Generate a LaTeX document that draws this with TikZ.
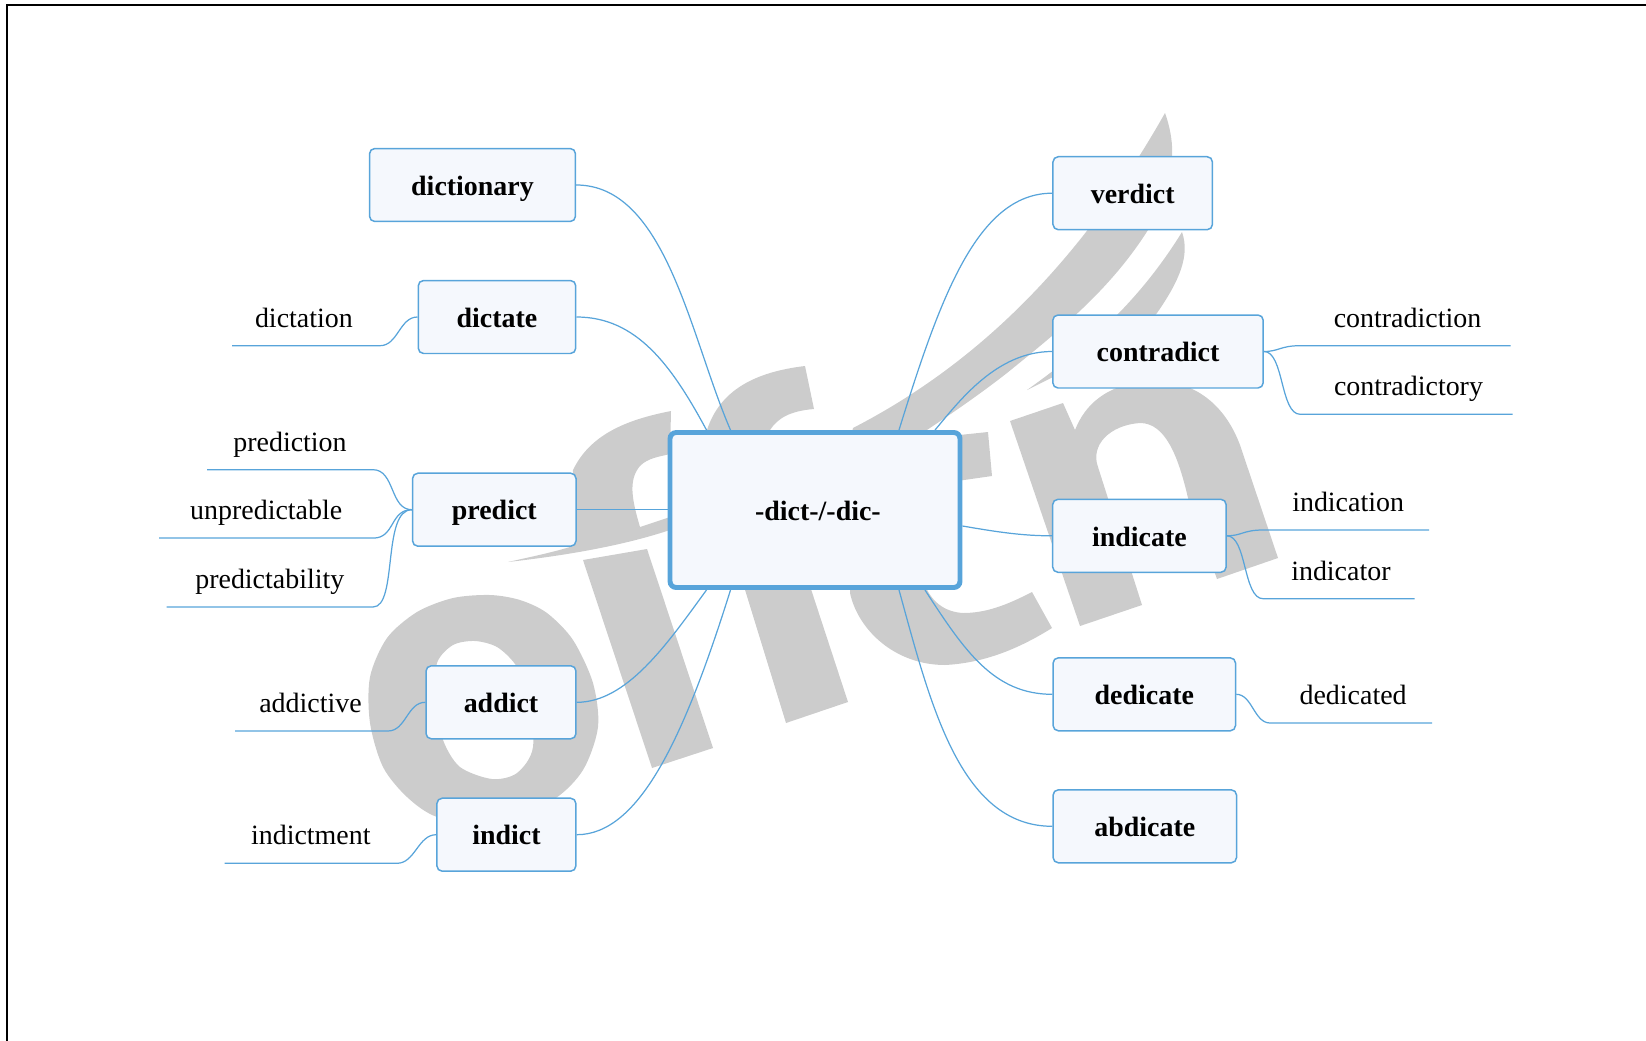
\documentclass[tikz,border=0pt]{standalone}
\usepackage{fontspec}
\setmainfont{Liberation Serif}
\definecolor{linkblue}{RGB}{88,164,218}
\definecolor{boxfill}{RGB}{245,248,253}
\definecolor{wmgray}{RGB}{204,204,204}
\tikzset{
    wmshape/.style={fill=wmgray, draw=none},
    link/.style={draw=linkblue, line width=0.7pt},
    topic/.style={draw=linkblue, fill=boxfill, line width=0.85pt, rounded corners=3pt, minimum height=1.46cm, inner sep=0pt, font=\fontsize{15.9}{19}\selectfont\bfseries, text height=13.8pt, text depth=2.1pt},
    root/.style={topic, line width=2.8pt, rounded corners=3.5pt, minimum width=5.80cm, minimum height=3.10cm},
    leaf/.style={inner sep=0pt, outer sep=0pt, minimum height=1.108cm, font=\fontsize{15.9}{19}\selectfont, text height=12.6pt, text depth=2.1pt},
    rleaf/.style={leaf, execute at begin node=\hspace{2.4pt}}
}
\begin{document}
\begin{tikzpicture}[x=0.02cm, y=-0.02cm]
    \useasboundingbox (0,0) rectangle (1646,1041);
    \draw [line width=1.15pt] (7,1041) -- (7,5) -- (1646,5);

    \fill [wmshape, even odd rule] plot [smooth cycle] coordinates {(490,595) (453,598) (417,612) (387,638) (370,677) (370,723) (383,767) (407,797) (437,817) (493,828) (553,800) (583,770) (598,727) (593,683) (573,640) (547,613) (520,600)}
        plot [smooth cycle] coordinates {(475,641) (453,645) (437,663) (435,700) (443,740) (460,767) (492,779) (517,773) (533,747) (528,690) (515,664) (497,647)};
    \fill [wmshape] (583,560) -- (647,549) -- (713,748) -- (652,768) -- cycle;
    \fill [wmshape] (742,580) -- (808,580) -- (848,702) -- (786,723) -- cycle;
    \fill [wmshape] (508,562) .. controls (570,555) and (625,545) .. (670,530) -- (670,517) -- (640,527) .. controls (632,500) and (628,480) .. (640,466) .. controls (648,458) and (658,457) .. (670,454) -- (671,411) .. controls (625,420) and (590,435) .. (573,470) -- (570,547) .. controls (550,553) and (530,557) .. (508,562) -- cycle;
    \fill [wmshape] (700,440) -- (707,430) .. controls (720,390) and (755,372) .. (805,366) -- (814,409) .. controls (790,411) and (778,418) .. (770,430) -- (770,440) -- cycle;
    \fill [wmshape] (850,440) -- (853,428) .. controls (950,378) and (1065,290) .. (1165,113) .. controls (1171,130) and (1173,145) .. (1172,160) -- (1148,230) .. controls (1110,290) and (1060,330) .. (1007,373) .. controls (975,398) and (945,418) .. (912,440) -- cycle;
    \fill [wmshape] (1027,390) .. controls (1090,345) and (1140,300) .. (1182,232) .. controls (1190,255) and (1180,280) .. (1157,313) -- (1100,380) -- (1053,377) -- cycle;
    \fill [wmshape] (1010,421) -- (1063,403) -- (1075,430) .. controls (1085,405) and (1105,385) .. (1150,380) .. controls (1195,380) and (1225,405) .. (1240,445) -- (1278,558) -- (1217,579) -- (1188,498) .. controls (1178,455) and (1165,423) .. (1140,423) .. controls (1110,425) and (1090,445) .. (1098,467) -- (1142,605) -- (1080,626) -- cycle;
    \fill [wmshape] (850,570) -- (850,593) .. controls (858,630) and (895,665) .. (945,665) .. controls (985,663) and (1020,648) .. (1052,628) -- (1032,592) .. controls (1005,606) and (985,613) .. (963,613) .. controls (945,612) and (930,602) .. (923,580) -- (923,570) -- cycle;
    \fill [wmshape] (950,436) -- (988,432) -- (992,476) -- (950,482) -- cycle;

    \node [root] (dict) at (815,510) {\hspace{3.3pt}-dict-/-dic-};
    \node [topic, minimum width=4.12cm] (dictionary) at (472.5,185) {dictionary};
    \node [topic, minimum width=3.15cm] (dictate) at (497,317) {dictate};
    \node [topic, minimum width=3.27cm] (predict) at (494.3,509.7) {predict};
    \node [topic, minimum width=3.00cm] (addict) at (501,702.3) {addict};
    \node [topic, minimum width=2.78cm] (indict) at (506.4,834.7) {indict};
    \node [topic, minimum width=3.19cm] (verdict) at (1132.7,193.2) {verdict};
    \node [topic, minimum width=4.21cm] (contradict) at (1158,351.5) {contradict};
    \node [topic, minimum width=3.47cm] (indicate) at (1139.4,535.8) {indicate};
    \node [topic, minimum width=3.65cm] (dedicate) at (1144.3,694.3) {dedicate};
    \node [topic, minimum width=3.67cm] (abdicate) at (1144.8,826.3) {abdicate};

    \node [leaf, minimum width=2.96cm] (dictation) at (306,318) {\hspace{-2.4pt}dictation};
    \node [leaf, minimum width=3.32cm] (prediction) at (290,442) {prediction};
    \node [leaf, minimum width=4.28cm] (unpredictable) at (266.2,510.4) {unpredictable};
    \node [leaf, minimum width=4.13cm] (predictability) at (269.8,579.3) {predictability};
    \node [leaf, minimum width=3.06cm] (addictive) at (311.5,703.3) {\hspace{-1.2pt}addictive};
    \node [leaf, minimum width=3.45cm] (indictment) at (310.8,835.6) {indictment};
    \node [rleaf, minimum width=4.21cm] (contradiction) at (1405.4,318) {contradiction};
    \node [rleaf, minimum width=4.25cm] (contradictory) at (1406.4,386.6) {contradictory};
    \node [rleaf, minimum width=3.32cm] (indication) at (1346,502.3) {indication};
    \node [rleaf, minimum width=3.03cm] (indicator) at (1338.8,571) {indicator};
    \node [rleaf, minimum width=3.24cm] (dedicated) at (1351,695.3) {dedicated};

    \draw [link] (dictionary.east) .. controls +(90,0) and +(-40,-92) .. ([xshift=-1.69cm]dict.north);
    \draw [link] (dictate.east) .. controls +(60,0) and +(-35,-65) .. ([xshift=-2.17cm]dict.north);
    \draw [link] (predict.east) -- (dict.west |- predict.east);
    \draw [link] (addict.east) .. controls +(50,0) and +(-40,55) .. ([xshift=-2.17cm]dict.south);
    \draw [link] (indict.east) .. controls +(62,0) and +(-47,150) .. ([xshift=-1.69cm]dict.south);
    \draw [link] (verdict.west) .. controls +(-75,0) and +(41,-132) .. ([xshift=1.68cm]dict.north);
    \draw [link] (contradict.west) .. controls +(-55,0) and +(25,-30) .. ([xshift=2.40cm]dict.north);
    \draw [link] (indicate.west) .. controls +(-30,0) and +(35,6) .. ([yshift=-0.32cm]dict.east);
    \draw [link] (dedicate.west) .. controls +(-58,0) and +(40,62) .. ([xshift=2.20cm]dict.south);
    \draw [link] (abdicate.west) .. controls +(-93,0) and +(31,112) .. ([xshift=1.68cm]dict.south);

    \draw [link] (dictate.west) .. controls +(-18,0) and +(18,0) .. (dictation.south east) -- (dictation.south west);
    \draw [link] (predict.west) .. controls +(-22,0) and +(22,0) .. (prediction.south east) -- (prediction.south west);
    \draw [link] (predict.west) .. controls +(-22,0) and +(22,0) .. (unpredictable.south east) -- (unpredictable.south west);
    \draw [link] (predict.west) .. controls +(-30,0) and +(25,0) .. (predictability.south east) -- (predictability.south west);
    \draw [link] (addict.west) .. controls +(-18,0) and +(18,0) .. (addictive.south east) -- (addictive.south west);
    \draw [link] (indict.west) .. controls +(-18,0) and +(18,0) .. (indictment.south east) -- (indictment.south west);
    \draw [link] (contradict.east) .. controls +(15,0) and +(-20,0) .. (contradiction.south west) -- (contradiction.south east);
    \draw [link] (contradict.east) .. controls +(20,0) and +(-20,0) .. (contradictory.south west) -- (contradictory.south east);
    \draw [link] (indicate.east) .. controls +(15,0) and +(-20,0) .. (indication.south west) -- (indication.south east);
    \draw [link] (indicate.east) .. controls +(20,0) and +(-20,0) .. (indicator.south west) -- (indicator.south east);
    \draw [link] (dedicate.east) .. controls +(16,0) and +(-16,0) .. (dedicated.south west) -- (dedicated.south east);
\end{tikzpicture}
\end{document}
